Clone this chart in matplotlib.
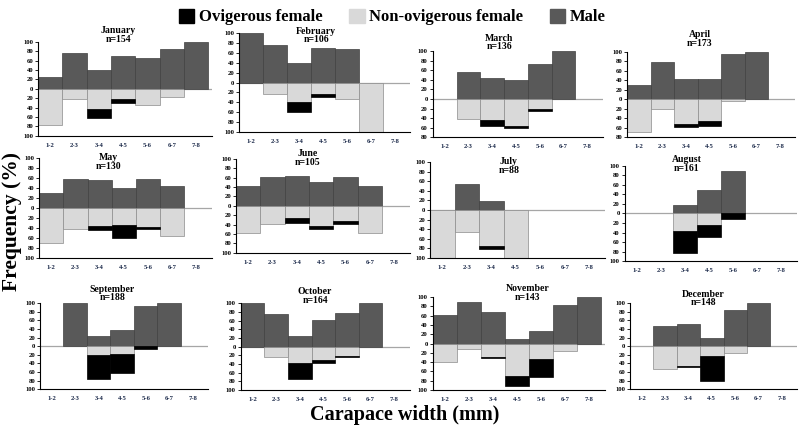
import matplotlib
matplotlib.use("Agg")
import matplotlib.pyplot as plt
from matplotlib.patches import Patch

plt.rcParams["font.family"] = ["Liberation Serif", "DejaVu Serif"]
plt.rcParams["font.weight"] = "bold"

bins = ["1-2", "2-3", "3-4", "4-5", "5-6", "6-7", "7-8"]
months = ["January", "February", "March", "April", "May", "June",
          "July", "August", "September", "October", "November", "December"]
n_sizes = [154, 106, 136, 173, 130, 105, 88, 161, 188, 164, 143, 148]

# percentages per size class, one list per month
male = [
    [25, 76, 40, 69, 65, 84, 100],
    [100, 76, 40, 70, 67, 0, 0],
    [0, 57, 43, 40, 74, 100, 0],
    [31, 79, 42, 43, 96, 100, 0],
    [29, 57, 56, 40, 58, 43, 0],
    [42, 61, 63, 50, 61, 43, 0],
    [0, 54, 18, 0, 0, 0, 0],
    [0, 0, 17, 50, 89, 0, 0],
    [0, 100, 23, 38, 94, 100, 0],
    [100, 75, 25, 62, 77, 100, 0],
    [61, 89, 68, 9, 27, 83, 100],
    [0, 46, 52, 19, 83, 100, 0],
]
non_ovigerous = [
    [76, 22, 42, 22, 35, 17, 0],
    [0, 24, 39, 24, 33, 100, 0],
    [0, 43, 44, 57, 21, 0, 0],
    [70, 21, 52, 46, 4, 0, 0],
    [71, 43, 37, 34, 38, 57, 0],
    [58, 39, 25, 44, 33, 57, 0],
    [100, 46, 75, 100, 0, 0, 0],
    [0, 0, 36, 24, 0, 0, 0],
    [0, 0, 20, 18, 0, 0, 0],
    [0, 25, 38, 32, 21, 0, 0],
    [39, 11, 28, 70, 34, 17, 0],
    [0, 54, 45, 24, 17, 0, 0],
]
ovigerous = [
    [0, 0, 19, 8, 0, 0, 0],
    [0, 0, 21, 6, 0, 0, 0],
    [0, 0, 13, 3, 5, 0, 0],
    [0, 0, 6, 11, 0, 0, 0],
    [0, 0, 7, 26, 4, 0, 0],
    [0, 0, 12, 6, 6, 0, 0],
    [0, 0, 7, 0, 0, 0, 0],
    [0, 0, 47, 26, 11, 0, 0],
    [0, 0, 57, 44, 6, 0, 0],
    [0, 0, 37, 6, 2, 0, 0],
    [0, 0, 4, 21, 39, 0, 0],
    [0, 0, 3, 57, 0, 0, 0],
]
y_bottom = [-100, -100, -80, -80, -100, -100, -100, -100, -100, -100, -100, -100]

# axes rectangles (figure fractions) and title placement (axes fractions)
rects = [
    [0.0475, 0.684, 0.2175, 0.219], [0.299, 0.693, 0.214, 0.230],
    [0.541, 0.681, 0.2125, 0.200], [0.784, 0.681, 0.210, 0.198],
    [0.049, 0.400, 0.216, 0.233], [0.295, 0.412, 0.2175, 0.219],
    [0.5375, 0.400, 0.219, 0.223], [0.781, 0.393, 0.215, 0.221],
    [0.050, 0.095, 0.210, 0.200], [0.301, 0.093, 0.211, 0.202],
    [0.541, 0.093, 0.215, 0.216], [0.7875, 0.095, 0.209, 0.200],
]
title_pos = [
    (0.46, 0.98), (0.45, 0.885), (0.39, 1.0), (0.43, 1.05),
    (0.40, 0.87), (0.41, 0.915), (0.45, 0.865), (0.36, 0.926),
    (0.43, 1.01), (0.44, 0.977), (0.55, 0.946), (0.44, 0.953),
]

c_male = "#595959"
c_non = "#d9d9d9"
c_ov = "#000000"

fig = plt.figure(figsize=(8, 4.3), dpi=100)

for i in range(12):
    ax = fig.add_axes(rects[i])
    x = list(range(7))
    ax.axhline(0, color="#a6a6a6", lw=0.9, zorder=1)
    for j in x:
        if male[i][j]:
            ax.bar(j, male[i][j], width=1, align="edge", color=c_male,
                   edgecolor="#404040", lw=0.5, zorder=2)
        if non_ovigerous[i][j]:
            ax.bar(j, -non_ovigerous[i][j], width=1, align="edge", color=c_non,
                   edgecolor="#8c8c8c", lw=0.5, zorder=2)
        if ovigerous[i][j]:
            ax.bar(j, -ovigerous[i][j], bottom=-non_ovigerous[i][j], width=1,
                   align="edge", color=c_ov, edgecolor="#000000", lw=0.5, zorder=3)
    ax.set_xlim(0, 7.15)
    ax.set_ylim(y_bottom[i], 100)
    ticks = list(range(y_bottom[i], 101, 20))
    ax.set_yticks(ticks)
    ax.set_yticklabels([str(abs(t)) for t in ticks], fontsize=4.8, fontweight="bold")
    ax.set_xticks([j + 0.5 for j in x])
    ax.set_xticklabels(bins, fontsize=4.8, fontweight="bold", color="#1c2a4a")
    ax.tick_params(axis="x", length=0, pad=5)
    ax.tick_params(axis="y", length=2, width=0.6, pad=1.5)
    for s in ["top", "right"]:
        ax.spines[s].set_visible(False)
    ax.spines["left"].set_linewidth(0.8)
    ax.spines["bottom"].set_linewidth(0.8)
    tx, ty = title_pos[i]
    ax.text(tx, ty, f"{months[i]}\nn={n_sizes[i]}", transform=ax.transAxes,
            ha="center", va="bottom", fontsize=7, fontweight="bold",
            linespacing=0.95)

handles = [Patch(facecolor=c_ov, edgecolor=c_ov),
           Patch(facecolor=c_non, edgecolor=c_non),
           Patch(facecolor=c_male, edgecolor=c_male)]
fig.legend(handles, ["Ovigerous female", "Non-ovigerous female", "Male"],
           loc="upper center", bbox_to_anchor=(0.49, 1.015), ncol=3, frameon=False,
           prop={"family": "Liberation Serif", "weight": "bold", "size": 12},
           handlelength=0.95, handleheight=0.95, handletextpad=0.25,
           columnspacing=1.6)

fig.text(0.015, 0.485, "Frequency (%)", rotation=90, ha="center", va="center",
         fontsize=15.5, fontweight="bold")
fig.text(0.506, 0.036, "Carapace width (mm)", ha="center", va="center",
         fontsize=14.5, fontweight="bold")

fig.savefig("out.png", dpi=100)
